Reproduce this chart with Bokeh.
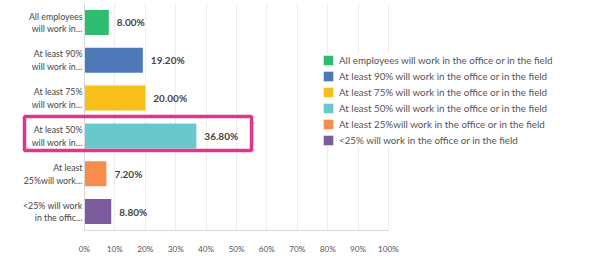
from bokeh.plotting import figure
from bokeh.models import (ColumnDataSource, FactorRange, Range1d, FixedTicker,
                          Legend, LegendItem, BoxAnnotation, Span)
from bokeh.core.properties import value
from bokeh.embed import file_html
from bokeh.resources import INLINE

# ---- data ----
short_labels = ["All employees\nwill work in…", "At least 90%\nwill work in…",
                "At least 75%\nwill work in…", "At least 50%\nwill work in…",
                "At least\n25%will work…", "<25% will work\nin the offic…"]
full_labels = ["All employees will work in the office or in the field",
               "At least 90% will work in the office or in the field",
               "At least 75% will work in the office or in the field",
               "At least 50% will work in the office or in the field",
               "At least 25%will work in the office or in the field",
               "<25% will work in the office or in the field"]
values = [8.00, 19.20, 20.00, 36.80, 7.20, 8.80]
colors = ["#2ebd6f", "#4f78b8", "#f8be1a", "#68c8cb", "#f78c4c", "#7d5c9e"]
ticks = [0, 10, 20, 30, 40, 50, 60, 70, 80, 90, 100]
tick_labels = ["0%", "10%", "20%", "30%", "40%", "50%", "60%", "70%", "80%", "90%", "100%"]

FONT = "Lato"
src = ColumnDataSource(dict(cat=short_labels, val=values, color=colors, name=full_labels,
                            lbl=[f"{v:.2f}%" for v in values]))

# frame covers the full width: 0% sits at 84 px, 100% at 388 px
p = figure(width=590, height=256, output_backend="svg", toolbar_location=None,
           y_range=FactorRange(factors=list(reversed(short_labels))),
           x_range=Range1d(-84 / 3.04, 506 / 3.04),
           min_border_left=0, min_border_right=0, min_border_top=3, min_border_bottom=25)
p.outline_line_color = None
p.background_fill_color = "white"
p.yaxis.visible = False

renderers = []
for i in range(len(values)):
    r = p.hbar(y=[short_labels[i]], right=[values[i]], left=0, height=0.66,
               color=colors[i], line_color=None)
    renderers.append(r)

# value labels
p.text(x="val", y="cat", text="lbl", source=src, x_offset=8, text_baseline="middle",
       text_align="left", text_font=value(FONT), text_font_size="10px",
       text_color="#444444", text_font_style="bold")

# category labels (left of the axis)
p.text(x=0, y="cat", text="cat", source=src, x_offset=-2, text_baseline="middle",
       text_align="right", text_font=value(FONT), text_font_size="8.8px",
       text_color="#444444", text_line_height=1.15)

p.add_layout(Span(location=0, dimension="height", line_color="#d9d9d9", line_width=1))

p.xaxis.ticker = FixedTicker(ticks=ticks)
p.xaxis.bounds = (0, 100)
p.xaxis.major_label_overrides = {t: l for t, l in zip(ticks, tick_labels)}
p.xaxis.major_tick_line_color = None
p.xaxis.minor_tick_line_color = None
p.xaxis.axis_line_color = "#d9d9d9"
p.xaxis.major_label_text_font = FONT
p.xaxis.major_label_text_font_size = "8.2px"
p.xaxis.major_label_text_color = "#555555"
p.xaxis.major_label_standoff = 7

p.xgrid.grid_line_color = "#ededed"
p.ygrid.grid_line_color = None

items = [LegendItem(label=full_labels[i], renderers=[renderers[i]]) for i in range(len(values))]
legend = Legend(items=items, location=(322, 84), padding=0, margin=0,
                glyph_width=12, glyph_height=12, label_height=12, spacing=4,
                label_standoff=5, label_text_font=FONT, label_text_font_size="9.8px",
                label_text_color="#555555", border_line_color=None,
                background_fill_color="white", background_fill_alpha=1.0)
p.add_layout(legend, "center")

box = BoxAnnotation(left=24, right=251, top=116, bottom=150,
                    left_units="canvas", right_units="canvas",
                    top_units="canvas", bottom_units="canvas",
                    fill_alpha=0, line_color="#e0358e", line_alpha=1.0, line_width=3.5)
p.add_layout(box)

open("out.html", "w").write(file_html(p, INLINE))
